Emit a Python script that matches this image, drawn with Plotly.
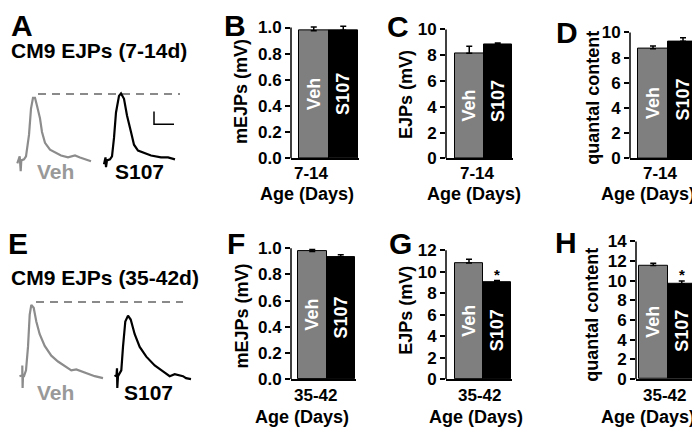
import plotly.graph_objects as go

W, H = 700, 428
FONT = "Liberation Sans, Arial, sans-serif"

# ---------------- data ----------------
groups = ["Veh", "S107"]
bar_colors = ["#7f7f7f", "#000000"]
age_young = "7-14"
age_old = "35-42"

mejp_young = [0.975, 0.98]
mejp_young_err = [0.03, 0.03]
ejp_young = [8.15, 8.85]
ejp_young_err = [0.55, 0.1]
qc_young = [8.7, 9.3]
qc_young_err = [0.23, 0.27]

mejp_old = [0.975, 0.935]
mejp_old_err = [0.015, 0.015]
ejp_old = [10.8, 9.05]
ejp_old_err = [0.35, 0.12]
qc_old = [11.55, 9.7]
qc_old_err = [0.22, 0.27]

sig_old_ejp = ["", "*"]
sig_old_qc = ["", "*"]

# representative EJP traces (time, amplitude; arbitrary units)
a_veh_t = [9.3, 11.7, 12.7, 13.3, 16, 18, 21, 23, 25, 27, 29, 32, 34, 37, 42, 47, 53, 60, 67, 72, 77, 83]
a_veh_v = [-4, 3, -12, -1, 0, 3, 25, 52, 63, 63, 55, 42, 28, 17, 10, 7, 4, 2, 4, 2, 0, -2]
a_s107_t = [96, 97.5, 98, 99, 102, 104, 106, 108, 111, 113, 116, 119, 123, 126, 130, 137, 143, 153, 160, 167]
a_s107_v = [-5, 2, -8, -1, 0, 3, 22, 48, 65, 67.5, 62, 45, 28, 15, 9, 6, 4, 2, 2, 0]
a_peak_t = [30, 172]
a_peak_v = [67, 67]
a_scale_t = [146, 146, 166]
a_scale_v = [49, 36, 36]

e_veh_t = [11.5, 14.3, 14.3, 14.6, 15, 16, 18, 20, 21.7, 23.3, 25.7, 28.3, 31.7, 36.7, 43.3, 50, 56.7, 63.3, 68.3, 73.3, 80, 86.7, 95]
e_veh_v = [0, 1, 11, -12, 0, 0, 6, 30, 63, 73, 70, 56, 43, 31, 21, 15, 10, 6, 7, 5, 2, 0, -2]
e_s107_t = [106.5, 108.5, 109, 109.3, 110, 113.3, 115, 117.3, 120, 122.7, 126.7, 131.7, 138.3, 146.7, 155, 161.7, 166.7, 175, 178, 183]
e_s107_v = [0, 1, 8, -12, 0, 6, 30, 56, 62, 58, 43, 30, 20, 11, 5, 0, 2, 0, -2, -3]
e_peak_t = [28, 175]
e_peak_v = [76, 76]

fig = go.Figure()


def px_x(x):
    return x / W


def px_y(y):
    return 1 - y / H


def ann(text, x, y, size, color="black", angle=0, xanchor="center", yanchor="middle"):
    fig.add_annotation(text=text, x=px_x(x), y=px_y(y), xref="paper", yref="paper",
                       showarrow=False, textangle=angle, xanchor=xanchor, yanchor=yanchor,
                       borderpad=0,
                       font=dict(family=FONT, size=size, color=color, weight="bold"))


# ---------------- bar panels ----------------
panels = [
    dict(v=mejp_young, e=mejp_young_err, top=1.0, dtick=0.2, fmt=".1f", a=283, L=291, w=29.5, y0=154, yt=20,
         title="mEJPs (mV)", tpos=(233, 86), age=age_young, apos=(303, 169), agepos=(299, 190), sig=None),
    dict(v=ejp_young, e=ejp_young_err, top=10, dtick=2, fmt="d", a=438, L=447, w=28.5, y0=154, yt=22,
         title="EJPs (mV)", tpos=(398, 89), age=age_young, apos=(470, 169), agepos=(466, 190), sig=None),
    dict(v=qc_young, e=qc_young_err, top=10, dtick=2, fmt="d", a=622, L=630, w=30, y0=154, yt=25,
         title="quantal content", tpos=(585, 92), age=age_young, apos=(652, 169), agepos=(640, 190), sig=None),
    dict(v=mejp_old, e=mejp_old_err, top=1.0, dtick=0.2, fmt=".1f", a=283, L=290, w=28.5, y0=380, yt=246,
         title="mEJPs (mV)", tpos=(234, 316), age=age_old, apos=(307, 397), agepos=(294, 419), sig=None),
    dict(v=ejp_old, e=ejp_old_err, top=12, dtick=2, fmt="d", a=438, L=447, w=28, y0=380, yt=248,
         title="EJPs (mV)", tpos=(398, 310), age=age_old, apos=(471, 397), agepos=(468, 419), sig=sig_old_ejp),
    dict(v=qc_old, e=qc_old_err, top=14, dtick=2, fmt="d", a=628, L=631, w=28.5, y0=380, yt=239,
         title="quantal content", tpos=(584, 314), age=age_old, apos=(656, 397), agepos=(640, 419), sig=sig_old_qc),
]

for i, p in enumerate(panels, start=1):
    xa = "x" if i == 1 else f"x{i}"
    ya = "y" if i == 1 else f"y{i}"
    fig.add_trace(go.Bar(
        x=[0, 1], y=p["v"], width=1, xaxis=xa, yaxis=ya,
        marker=dict(color=bar_colors, line=dict(color="black", width=1)),
        error_y=dict(type="data", symmetric=False, array=p["e"], arrayminus=[0, 0],
                     color="black", thickness=1.5, width=3),
        text=groups, textposition="inside", insidetextanchor="middle", textangle=-90,
        constraintext="none",
        textfont=dict(family=FONT, size=18, color="white", weight="bold"),
        showlegend=False, hoverinfo="skip"))
    ppu = (p["y0"] - p["yt"]) / p["top"]
    rtop = p["top"] * 1.07
    toppx = p["y0"] - rtop * ppu
    R = p["L"] + 2 * p["w"] + 1
    fig.layout[f"xaxis{i if i > 1 else ''}"] = dict(
        domain=[px_x(p["a"]), px_x(R)], anchor=ya,
        range=[-0.5 - (p["L"] - p["a"]) / p["w"], 1.5 + 1 / p["w"]],
        showline=True, linecolor="black", linewidth=1.5, showticklabels=False, ticks="",
        showgrid=False, zeroline=False, fixedrange=True)
    fig.layout[f"yaxis{i if i > 1 else ''}"] = dict(
        domain=[px_y(p["y0"]), px_y(toppx)], anchor=xa, range=[0, rtop],
        tickmode="linear", tick0=0, dtick=p["dtick"], tickformat=p["fmt"],
        ticks="outside", ticklen=5, tickwidth=1.5, tickcolor="black",
        tickfont=dict(family=FONT, size=17, color="black", weight="bold"),
        showline=False, showgrid=False, zeroline=False, fixedrange=True)
    fig.add_shape(type="line", xref=f"{xa} domain", yref=ya, x0=0, x1=0, y0=0, y1=p["top"],
                  line=dict(color="black", width=1.5))
    ann(p["title"], p["tpos"][0], p["tpos"][1], 18, angle=-90)
    ann(p["age"], p["apos"][0], p["apos"][1], 17)
    ann("Age (Days)", p["agepos"][0], p["agepos"][1], 18)
    if p["sig"]:
        for k, s in enumerate(p["sig"]):
            if s:
                fig.add_annotation(text=s, x=k, y=p["v"][k] + p["e"][k], xref=xa, yref=ya,
                                   showarrow=False, yanchor="bottom", yshift=-4,
                                   font=dict(family=FONT, size=15, color="black", weight="bold"))

# ---------------- trace panels ----------------
gray = "#8c8c8c"
fig.add_trace(go.Scatter(x=a_peak_t, y=a_peak_v, mode="lines", xaxis="x7", yaxis="y7",
                         line=dict(color="#8a8a8a", width=2, dash="8px,6px"), showlegend=False, hoverinfo="skip"))
fig.add_trace(go.Scatter(x=a_veh_t, y=a_veh_v, mode="lines", xaxis="x7", yaxis="y7",
                         line=dict(color=gray, width=2.2), showlegend=False, hoverinfo="skip"))
fig.add_trace(go.Scatter(x=a_s107_t, y=a_s107_v, mode="lines", xaxis="x7", yaxis="y7",
                         line=dict(color="black", width=2.2), showlegend=False, hoverinfo="skip"))
fig.add_trace(go.Scatter(x=a_scale_t, y=a_scale_v, mode="lines", xaxis="x7", yaxis="y7",
                         line=dict(color="black", width=1.5), showlegend=False, hoverinfo="skip"))

fig.add_trace(go.Scatter(x=e_peak_t, y=e_peak_v, mode="lines", xaxis="x8", yaxis="y8",
                         line=dict(color="#8a8a8a", width=2, dash="8px,6px"), showlegend=False, hoverinfo="skip"))
fig.add_trace(go.Scatter(x=e_veh_t, y=e_veh_v, mode="lines", xaxis="x8", yaxis="y8",
                         line=dict(color=gray, width=2.2), showlegend=False, hoverinfo="skip"))
fig.add_trace(go.Scatter(x=e_s107_t, y=e_s107_v, mode="lines", xaxis="x8", yaxis="y8",
                         line=dict(color="black", width=2.2), showlegend=False, hoverinfo="skip"))

hidden = dict(visible=False, showgrid=False, zeroline=False, fixedrange=True)
fig.layout["xaxis7"] = dict(domain=[0, px_x(180)], range=[0, 180], anchor="y7", **hidden)
fig.layout["yaxis7"] = dict(domain=[px_y(200), px_y(60)], range=[-45, 95], anchor="x7", **hidden)
fig.layout["xaxis8"] = dict(domain=[0, px_x(192)], range=[0, 192], anchor="y8", **hidden)
fig.layout["yaxis8"] = dict(domain=[px_y(410), px_y(285)], range=[-33, 92], anchor="x8", **hidden)

# labels
ann("Veh", 47, 167, 21, color="#999999")
ann("S107", 131.5, 167, 21)
ann("Veh", 47, 394, 21, color="#999999")
ann("S107", 140, 394, 21)
ann("CM9 EJPs (7-14d)", 2, 44, 21, xanchor="left")
ann("CM9 EJPs (35-42d)", 2, 275.5, 21, xanchor="left")

for letter, (lx, ly) in {"A": (14.5, 0), "B": (226.5, 0), "C": (390, 1.5), "D": (559, 7.5),
                         "E": (10, 223.5), "F": (227.5, 223.5), "G": (392.5, 223.5), "H": (557.5, 222)}.items():
    ann(letter, lx, ly, 30, yanchor="top")

fig.update_layout(width=W, height=H, margin=dict(l=0, r=0, t=0, b=0),
                  paper_bgcolor="white", plot_bgcolor="white", showlegend=False,
                  bargap=0, font=dict(family=FONT))

fig.write_html("out.html")
